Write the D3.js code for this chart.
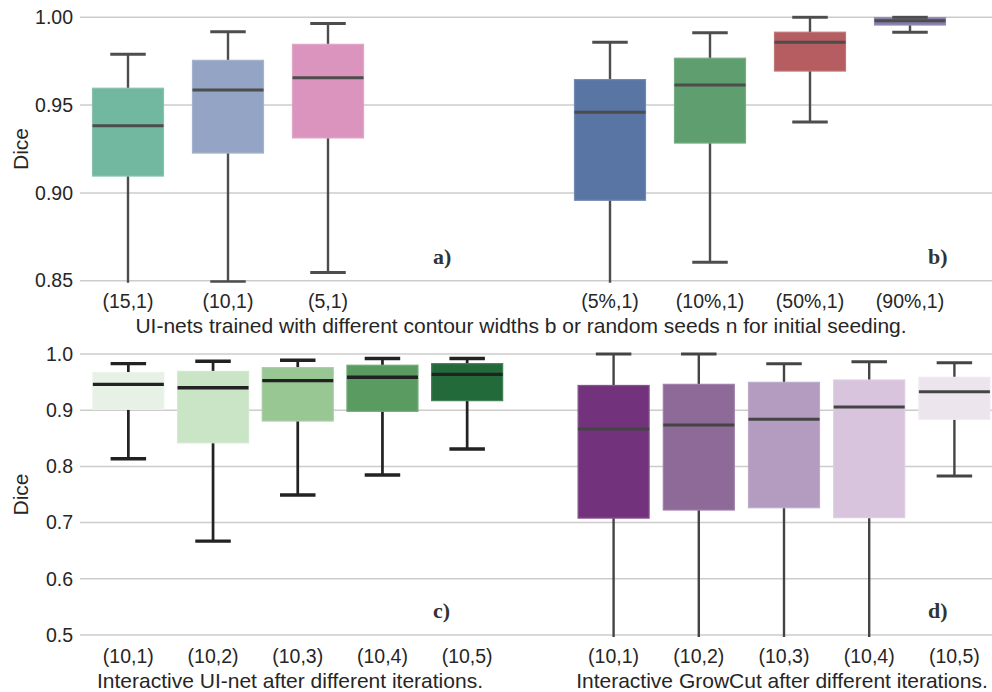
<!DOCTYPE html>
<meta charset="utf-8">
<html>
<head>
<script src="https://d3js.org/d3.v7.min.js" charset="utf-8"></script>
<style>
body { margin: 0; background: #fff; }
text { font-family: "Liberation Sans", Arial, sans-serif; fill: #262626; }
.grid line { stroke: #cccccc; stroke-width: 1.5; }
.tag { font-family: "Liberation Serif", "DejaVu Serif", serif; font-weight: bold; font-size: 22px; fill: #333; }
</style>
</head>
<body>
<svg width="992" height="692"></svg>
<script type="text/javascript">
// panel a) contour widths
var catsA = ["(15,1)", "(10,1)", "(5,1)"];
var loA  = [0.830, 0.8494, 0.8546];
var q1A  = [0.9096, 0.9227, 0.9313];
var medA = [0.9383, 0.9586, 0.9656];
var q3A  = [0.9596, 0.9755, 0.9846];
var hiA  = [0.979, 0.9918, 0.9964];
var colA = ["#72b8a0", "#94a4c4", "#db94bd"];

// panel b) random seeds
var catsB = ["(5%,1)", "(10%,1)", "(50%,1)", "(90%,1)"];
var loB  = [0.820, 0.8605, 0.9404, 0.9915];
var q1B  = [0.8958, 0.9284, 0.9694, 0.9956];
var medB = [0.9459, 0.9614, 0.9858, 0.998];
var q3B  = [0.9645, 0.9767, 0.9915, 0.9998];
var hiB  = [0.9858, 0.9912, 1.0, 1.0];
var colB = ["#5875a4", "#5f9e6e", "#b55d60", "#857aab"];

// panel c) interactive UI-net
var catsC = ["(10,1)", "(10,2)", "(10,3)", "(10,4)", "(10,5)"];
var loC  = [0.8137, 0.667, 0.749, 0.7847, 0.831];
var q1C  = [0.9016, 0.842, 0.8808, 0.898, 0.917];
var medC = [0.946, 0.940, 0.9526, 0.9585, 0.9638];
var q3C  = [0.9668, 0.969, 0.9757, 0.980, 0.9828];
var hiC  = [0.9828, 0.987, 0.989, 0.992, 0.992];
var colC = ["#e8f1e6", "#c9e5c6", "#98c794", "#5a9b62", "#236a3b"];

// panel d) interactive GrowCut
var catsD = ["(10,1)", "(10,2)", "(10,3)", "(10,4)", "(10,5)"];
var loD  = [0.40, 0.40, 0.40, 0.40, 0.783];
var q1D  = [0.708, 0.7224, 0.7265, 0.7088, 0.8838];
var medD = [0.8665, 0.8737, 0.8838, 0.9057, 0.933];
var q3D  = [0.944, 0.946, 0.9496, 0.9537, 0.9585];
var hiD  = [1.0, 1.0, 0.9828, 0.9864, 0.9846];
var colD = ["#73337c", "#8e6a99", "#b49bc0", "#d8c5dd", "#ede5ee"];

var ticksTop = [0.85, 0.90, 0.95, 1.00];
var ticksBot = [0.5, 0.6, 0.7, 0.8, 0.9, 1.0];

var svg = d3.select("svg");

function row(id, domain, range, ticks, fmt) {
    var y = d3.scaleLinear().domain(domain).range(range);
    svg.append("clipPath").attr("id", id)
      .append("rect").attr("x", 0).attr("width", 992)
        .attr("y", range[1] - 2).attr("height", range[0] - range[1] + 4);
    svg.append("g").attr("class", "grid")
      .selectAll("line").data(ticks).enter().append("line")
        .attr("x1", 80).attr("x2", 992)
        .attr("y1", function(d) { return y(d); })
        .attr("y2", function(d) { return y(d); });
    var ax = svg.append("g").attr("transform", "translate(80,0)")
        .call(d3.axisLeft(y).tickValues(ticks).tickFormat(d3.format(fmt)).tickSize(0).tickPadding(7));
    ax.select(".domain").remove();
    ax.selectAll("text").style("font-size", "19.5px").style("fill", "#262626")
      .style("font-family", "'Liberation Sans', Arial, sans-serif");
    svg.append("text")
        .attr("transform", "translate(28," + ((range[0] + range[1]) / 2) + ") rotate(-90)")
        .attr("text-anchor", "middle").style("font-size", "21px").text("Dice");
    return y;
}

function panel(y, clip, cats, lo, q1, med, q3, hi, cols, xr, bw, lineCol, lw, tickY) {
    var x = d3.scaleBand().domain(cats).range(xr);
    var data = cats.map(function(c, i) {
        return {c: c, lo: lo[i], q1: q1[i], med: med[i], q3: q3[i], hi: hi[i], col: cols[i]};
    });
    var g = svg.append("g").attr("clip-path", "url(#" + clip + ")");
    var b = g.selectAll(".box").data(data).enter().append("g")
        .attr("transform", function(d) { return "translate(" + (x(d.c) + x.bandwidth() / 2) + ",0)"; });
    b.append("line").attr("x1", 0).attr("x2", 0)
        .attr("y1", function(d) { return y(d.hi); }).attr("y2", function(d) { return y(d.lo); })
        .attr("stroke", lineCol).attr("stroke-width", lw * 0.8);
    b.append("rect")
        .attr("x", -bw / 2).attr("width", bw)
        .attr("y", function(d) { return y(d.q3); })
        .attr("height", function(d) { return y(d.q1) - y(d.q3); })
        .attr("fill", function(d) { return d.col; })
        .attr("stroke", function(d) { return d3.interpolateRgb(d.col, "#ffffff")(0.15); })
        .attr("stroke-width", 1.2);
    b.append("line").attr("x1", -bw / 2).attr("x2", bw / 2)
        .attr("y1", function(d) { return y(d.med); }).attr("y2", function(d) { return y(d.med); })
        .attr("stroke", lineCol).attr("stroke-width", lw);
    ["hi", "lo"].forEach(function(k) {
        b.append("line").attr("x1", -bw / 4).attr("x2", bw / 4)
            .attr("y1", function(d) { return y(d[k]); }).attr("y2", function(d) { return y(d[k]); })
            .attr("stroke", lineCol).attr("stroke-width", lw);
    });
    svg.append("g").selectAll("text").data(cats).enter().append("text")
        .attr("x", function(d) { return x(d) + x.bandwidth() / 2; })
        .attr("y", tickY).attr("text-anchor", "middle")
        .style("font-size", "19.5px").text(function(d) { return d; });
    return x;
}

var yTop = row("clipTop", [0.85, 1.0], [280.7, 17.3], ticksTop, ".2f");
var yBot = row("clipBot", [0.5, 1.0], [635, 354], ticksBot, ".1f");

panel(yTop, "clipTop", catsA, loA, q1A, medA, q3A, hiA, colA, [78, 378], 71, "#4d4d4d", 3, 308);
panel(yTop, "clipTop", catsB, loB, q1B, medB, q3B, hiB, colB, [560, 960], 71, "#4d4d4d", 3, 308);
panel(yBot, "clipBot", catsC, loC, q1C, medC, q3C, hiC, colC, [86, 509.5], 71, "#222222", 3.4, 663);
panel(yBot, "clipBot", catsD, loD, q1D, medD, q3D, hiD, colD, [571, 997], 71, "#444444", 3, 663);

svg.append("text").attr("x", 521).attr("y", 333).attr("text-anchor", "middle")
    .style("font-size", "21px")
    .text("UI-nets trained with different contour widths b or random seeds n for initial seeding.");
svg.append("text").attr("x", 290).attr("y", 688).attr("text-anchor", "middle")
    .style("font-size", "21px").text("Interactive UI-net after different iterations.");
svg.append("text").attr("x", 782).attr("y", 688).attr("text-anchor", "middle")
    .style("font-size", "21px").text("Interactive GrowCut after different iterations.");

svg.append("text").attr("class", "tag").attr("x", 433).attr("y", 264).text("a)");
svg.append("text").attr("class", "tag").attr("x", 928).attr("y", 264).text("b)");
svg.append("text").attr("class", "tag").attr("x", 433).attr("y", 618).text("c)");
svg.append("text").attr("class", "tag").attr("x", 928).attr("y", 618).text("d)");
</script>
</body>
</html>
